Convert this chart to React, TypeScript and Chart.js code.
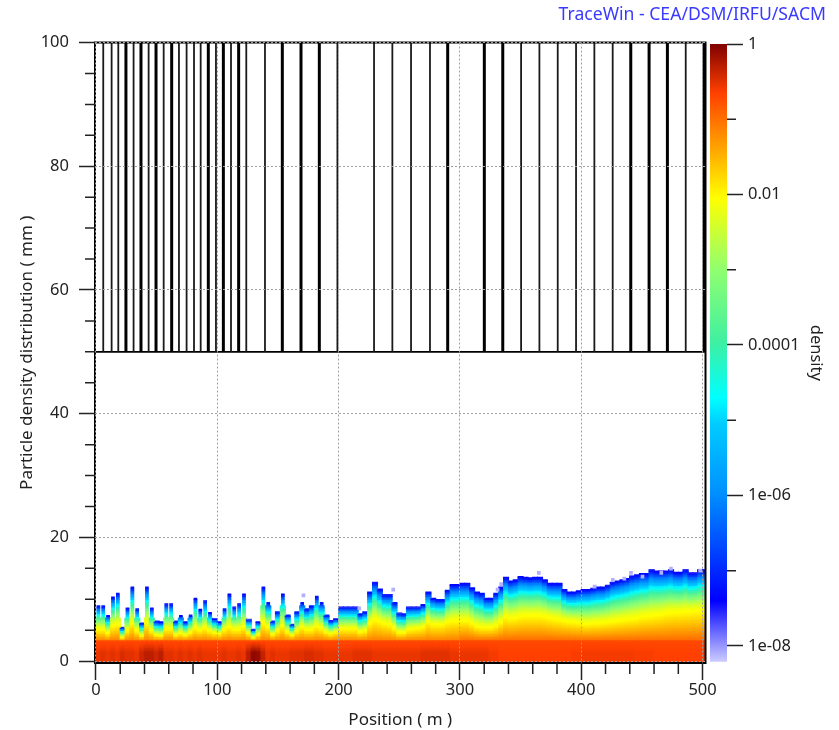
import React, { useEffect, useRef } from "react";
import { Chart, registerables } from "chart.js";

Chart.register(...registerables);

const FONT = "'Noto Sans', sans-serif";
const FONT_SIZE = 16.5;
const TITLE_SIZE = 17;
const TOP_SIZE = 17.6;
const TEXT = "#222";

const xMajor = [0, 100, 200, 300, 400, 500];
const xMinor = [20, 40, 60, 80, 120, 140, 160, 180, 220, 240, 260, 280, 320, 340, 360, 380, 420, 440, 460, 480];
const yMajor = [0, 20, 40, 60, 80, 100];
const yMinor = [5, 10, 15, 25, 30, 35, 45, 50, 55, 65, 70, 75, 85, 90, 95];

const thinElements = [6, 12.9, 18.4, 31, 43.4, 55.8, 68.4, 74.7, 80.8, 86.3, 98.9, 111.3, 123.9, 139.3, 199, 229.2, 244.3, 259.7, 275.3, 350.4, 365.5, 380.6, 395.7, 410.8, 425.9, 486.1];
const thickElements = [24.7, 37.1, 49.5, 62.4, 92.6, 105, 117.6, 153.6, 169, 184.1, 289.9, 320.1, 335.3, 440.8, 455.9, 471, 501.2];

const columnPositions = [2, 6, 10, 14, 18, 22, 26, 30, 34, 38, 42, 46, 50, 54, 58, 62, 66, 70, 74, 78, 82, 86, 90, 94, 98, 102, 106, 110, 114, 118, 122, 126, 130, 134, 138, 142, 146, 150, 154, 158, 162, 166, 170, 174, 178, 182, 186, 190, 194, 198, 202, 206, 210, 214, 218, 222, 226, 230, 234, 238, 242, 246, 250, 254, 258, 262, 266, 270, 274, 278, 282, 286, 290, 294, 298, 302, 306, 310, 314, 318, 322, 326, 330, 334, 338, 342, 346, 350, 354, 358, 362, 366, 370, 374, 378, 382, 386, 390, 394, 398, 402, 406, 410, 414, 418, 422, 426, 430, 434, 438, 442, 446, 450, 454, 458, 462, 466, 470, 474, 478, 482, 486, 490, 494, 498, 502];

// Outer edge of the particle cloud in each column (mm)
const envelopeTop = [
  9.0, 9.0, 7.4, 10.4, 11.0, 5.5, 8.6, 12.0, 8.5, 6.2, 12.0, 8.6, 6.5, 6.4, 9.3, 9.3, 6.5, 7.4, 6.4, 7.5, 10.2, 8.4, 9.8, 7.9, 6.9,
  6.4, 8.5, 10.9, 8.8, 9.3, 10.9, 6.8, 5.2, 6.4, 12.0, 9.5, 6.5, 8.0, 10.9, 7.5, 6.0, 8.0, 9.5, 8.5, 9.0, 10.5, 9.5, 7.5, 6.6, 6.9,
  8.8, 8.8, 8.8, 8.8, 7.7, 8.0, 11.2, 12.8, 11.7, 10.8, 10.8, 9.5, 7.8, 7.7, 8.8, 8.8, 8.8, 9.2, 11.2, 10.2, 10.0, 10.0, 11.5, 12.4, 12.4,
  12.6, 12.6, 11.9, 11.2, 11.0, 10.2, 10.2, 11.0, 12.0, 13.6, 13.0, 13.2, 13.7, 13.6, 13.5, 13.6, 13.6, 13.2, 12.6, 12.6, 12.6, 11.6, 11.2, 11.2, 11.4,
  11.6, 11.6, 11.8, 12.0, 12.0, 12.3, 12.8, 13.0, 13.2, 13.4, 13.8, 14.0, 14.2, 14.2, 14.8, 14.6, 14.6, 14.6, 14.8, 14.4, 14.4, 14.8, 14.3, 14.3, 14.8, 14.8,
];

// Height of the yellow (density 0.01) level in each column (mm)
const yellowLevel = [
  5.2, 5.2, 4.6, 5.8, 6.0, 3.9, 5.0, 6.2, 5.0, 4.2, 6.2, 5.0, 4.3, 4.2, 5.3, 5.3, 4.3, 4.6, 4.3, 4.7, 5.4, 5.1, 5.4, 5.0, 4.7,
  4.5, 5.2, 5.6, 5.2, 5.2, 5.6, 4.6, 3.9, 4.4, 6.2, 5.6, 4.4, 5.0, 5.8, 4.8, 4.3, 5.0, 5.6, 5.2, 5.2, 5.7, 5.4, 4.8, 4.5, 4.8,
  5.3, 5.3, 5.3, 5.3, 4.8, 5.0, 6.2, 6.8, 6.5, 6.2, 6.0, 5.4, 4.7, 4.7, 5.2, 5.3, 5.4, 5.6, 6.4, 6.0, 6.0, 6.0, 6.4, 6.6, 6.6,
  6.6, 6.6, 6.2, 5.7, 5.5, 5.5, 5.5, 5.8, 6.4, 7.2, 7.0, 7.1, 7.3, 7.4, 7.4, 7.4, 7.4, 7.3, 7.1, 6.9, 6.8, 6.6, 6.5, 6.4, 6.3,
  6.1, 6.1, 6.2, 6.2, 6.3, 6.4, 6.5, 6.6, 6.7, 6.8, 6.9, 7.0, 7.2, 7.3, 7.4, 7.5, 7.6, 7.8, 7.9, 8.0, 8.0, 8.1, 8.1, 8.2, 8.2, 8.2,
];

// log10 of the density in the core of each column
const coreLogDensity = [
  -0.55, -0.5, -0.55, -0.5, -0.55, -0.45, -0.5, -0.5, -0.55, -0.4, -0.3, -0.3, -0.4, -0.3, -0.5, -0.5, -0.55, -0.5, -0.55, -0.5, -0.55, -0.5, -0.55, -0.55, -0.55,
  -0.55, -0.5, -0.55, -0.55, -0.5, -0.55, -0.3, -0.08, -0.12, -0.35, -0.55, -0.5, -0.55, -0.55, -0.55, -0.5, -0.5, -0.5, -0.45, -0.45, -0.5, -0.5, -0.55, -0.55, -0.55,
  -0.55, -0.55, -0.55, -0.5, -0.5, -0.5, -0.5, -0.55, -0.55, -0.55, -0.55, -0.55, -0.55, -0.55, -0.55, -0.55, -0.55, -0.5, -0.5, -0.5, -0.5, -0.5, -0.5, -0.55, -0.55,
  -0.55, -0.55, -0.55, -0.55, -0.55, -0.55, -0.6, -0.6, -0.65, -0.65, -0.65, -0.65, -0.65, -0.65, -0.65, -0.65, -0.65, -0.65, -0.65, -0.65, -0.65, -0.65, -0.65, -0.62, -0.62,
  -0.6, -0.6, -0.6, -0.6, -0.6, -0.6, -0.6, -0.6, -0.6, -0.6, -0.6, -0.62, -0.62, -0.62, -0.62, -0.65, -0.65, -0.65, -0.65, -0.65, -0.65, -0.65, -0.65, -0.65, -0.65, -0.65,
];

const wispX = [171, 217, 245, 331, 334, 365, 411, 426, 435.5, 441, 450.5, 466, 474, 498];
const wispY = [10.9, 8.8, 11.8, 11.8, 12.7, 14.5, 12.3, 13.4, 13.6, 14.5, 13.9, 14.5, 15.2, 14.9];

const paletteLog = [0, -0.65, -2.05, -3.0, -3.95, -4.7, -5.05, -5.97, -7.4, -8.21];
const paletteRgb = [
  [128, 0, 0], [255, 64, 0], [255, 255, 0], [144, 255, 112], [64, 240, 160],
  [0, 255, 255], [0, 204, 255], [0, 144, 255], [0, 0, 255], [204, 204, 255],
];

const cbarMajor = [1, 0.01, 0.0001, 1e-6, 1e-8];
const cbarMinor = [0.1, 0.001, 1e-5, 1e-7];
const cbarLabels = ["1", "0.01", "0.0001", "1e-06", "1e-08"];

const lerp = (a: number, b: number, t: number) => a + (b - a) * t;

function colorFor(logD: number) {
  for (let k = 1; k < paletteLog.length; k++) {
    if (logD >= paletteLog[k]) {
      const t = (paletteLog[k - 1] - logD) / (paletteLog[k - 1] - paletteLog[k]);
      const c = paletteRgb[k - 1].map((v, j) => Math.round(lerp(v, paletteRgb[k][j], t)));
      return `rgb(${c[0]},${c[1]},${c[2]})`;
    }
  }
  return "rgb(204,204,255)";
}

const CORE_TOP = 3.4;
const ROW = 0.25;

function cellLog(i: number, y: number) {
  const top = envelopeTop[i];
  const yel = yellowLevel[i];
  const peak = coreLogDensity[i];
  const above = columnPositions[i] < 300 ? -1.1 : -0.95;
  if (y <= 1.5) return peak;
  if (y <= CORE_TOP) return lerp(peak, -0.72, (y - 1.5) / (CORE_TOP - 1.5));
  if (y <= yel) return lerp(above, -2.05, (y - CORE_TOP) / (yel - CORE_TOP));
  return lerp(-2.05, -7.4, Math.pow((y - yel) / (top - yel), 1.5));
}

// Above these heights the spikes of the first part of the line are narrow
const spikeFrom = (x: number) => (x < 130 ? 7 : x < 200 ? 9 : Infinity);

function heatDatasets() {
  const sets: any[] = [];
  for (let r = 0; r < 60; r++) {
    const lo = r * ROW;
    const wide: any[] = [];
    const wideColors: string[] = [];
    const narrow: any[] = [];
    const narrowColors: string[] = [];
    columnPositions.forEach((x, i) => {
      if (lo < envelopeTop[i]) {
        const hi = Math.min(lo + ROW, envelopeTop[i]);
        const cell = { x, y: [r === 0 ? -0.3 : lo - 0.06, hi] };
        const color = colorFor(cellLog(i, lo + ROW / 2));
        if (lo >= spikeFrom(x)) {
          narrow.push(cell);
          narrowColors.push(color);
        } else {
          wide.push(cell);
          wideColors.push(color);
        }
      }
    });
    if (wide.length) sets.push({ type: "bar", label: `row ${r}`, data: wide, backgroundColor: wideColors, borderWidth: 0, barThickness: 5.4, grouped: false, order: 5 + (60 - r) });
    if (narrow.length) sets.push({ type: "bar", label: `row ${r} spikes`, data: narrow, backgroundColor: narrowColors, borderWidth: 0, barThickness: 3, grouped: false, order: 5 + (60 - r) });
  }
  sets.push({
    type: "bar", label: "halo", order: 3, borderWidth: 0, barThickness: 3, grouped: false,
    backgroundColor: "rgb(176,176,255)",
    data: wispX.map((x, i) => ({ x, y: [wispY[i] - 0.5, wispY[i]] })),
  });
  return sets;
}

const elementLine = (xs: number[]) =>
  xs.flatMap((x) => [{ x, y: 50 }, { x, y: 100 }, { x, y: null }]);

const minorTicks = {
  id: "minorTicks",
  afterDraw(chart: any) {
    const { ctx, chartArea: a, scales } = chart;
    ctx.save();
    ctx.strokeStyle = TEXT;
    ctx.lineWidth = 1.5;
    ctx.beginPath();
    if (scales.x && scales.y) {
      xMinor.forEach((v) => {
        const p = scales.x.getPixelForValue(v);
        ctx.moveTo(p, a.bottom);
        ctx.lineTo(p, a.bottom + 11);
      });
      yMinor.forEach((v) => {
        const p = scales.y.getPixelForValue(v);
        ctx.moveTo(a.left, p);
        ctx.lineTo(a.left - 10, p);
      });
    } else if (scales.c) {
      cbarMinor.forEach((v) => {
        const p = scales.c.getPixelForValue(v);
        ctx.moveTo(a.right, p);
        ctx.lineTo(a.right + 9, p);
      });
    }
    ctx.stroke();
    ctx.restore();
  },
};

const frame = {
  id: "frame",
  afterDatasetsDraw(chart: any) {
    const { ctx, chartArea: a } = chart;
    ctx.save();
    ctx.strokeStyle = "#000";
    ctx.lineWidth = 2;
    ctx.strokeRect(a.left, a.top, a.right - a.left, a.bottom - a.top);
    ctx.restore();
  },
};

export default function App() {
  const mainRef = useRef<HTMLCanvasElement>(null);
  const barRef = useRef<HTMLCanvasElement>(null);

  useEffect(() => {
    const main = new Chart(mainRef.current as any, {
      type: "bar",
      data: {
        datasets: [
          { type: "line", label: "elements", data: elementLine(thinElements), borderColor: "#1a1a1a", borderWidth: 1.8, pointRadius: 0, spanGaps: false, order: 1 },
          { type: "line", label: "elements wide", data: elementLine(thickElements), borderColor: "#000", borderWidth: 3, pointRadius: 0, spanGaps: false, order: 1 },
          { type: "line", label: "base", data: [{ x: -0.8, y: 50 }, { x: 502.4, y: 50 }], borderColor: "#000", borderWidth: 1.6, pointRadius: 0, order: 1 },
          ...heatDatasets(),
        ] as any,
      },
      options: {
        responsive: false,
        animation: false,
        layout: { padding: { left: 0, right: 13, top: 0, bottom: 0 } },
        plugins: {
          legend: { display: false },
          tooltip: { enabled: false },
          title: {
            display: true,
            text: "TraceWin - CEA/DSM/IRFU/SACM",
            align: "end",
            color: "#3a3aff",
            font: { family: FONT, size: TOP_SIZE, weight: "normal" },
            padding: { top: 4.5, bottom: 16.9 },
          },
        },
        scales: {
          x: {
            type: "linear",
            min: -0.8,
            max: 502.4,
            offset: false,
            afterBuildTicks: (s: any) => { s.ticks = xMajor.map((value) => ({ value })); },
            afterFit: (s: any) => { s.height = 67; },
            grid: { offset: false, z: 1, color: "#a0a0a0", lineWidth: 1, tickColor: TEXT, tickWidth: 1.5, tickLength: 17, tickBorderDash: [] } as any,
            border: { display: false, dash: [2, 2] },
            ticks: { color: TEXT, font: { family: FONT, size: FONT_SIZE }, padding: 0, maxRotation: 0, autoSkip: false },
            title: { display: true, text: "Position ( m )", color: TEXT, font: { family: FONT, size: TITLE_SIZE }, padding: { top: 4, bottom: 0 } },
          },
          y: {
            type: "linear",
            position: "left",
            min: -0.3,
            max: 100,
            afterBuildTicks: (s: any) => { s.ticks = yMajor.map((value) => ({ value })); },
            afterFit: (s: any) => { s.width = 95; },
            grid: { z: 1, color: "#a0a0a0", lineWidth: 1, tickColor: TEXT, tickWidth: 1.5, tickLength: 16, tickBorderDash: [] } as any,
            border: { display: false, dash: [2, 2] },
            ticks: { color: TEXT, font: { family: FONT, size: FONT_SIZE }, padding: 10, autoSkip: false },
            title: { display: true, text: "Particle density distribution ( mm )", color: TEXT, font: { family: FONT, size: TITLE_SIZE }, padding: { top: 17, bottom: 0 } },
          },
          spacer: {
            type: "linear",
            position: "right",
            afterFit: (s: any) => { s.width = 120.5; },
            grid: { display: false },
            border: { display: false },
            ticks: { display: false },
          },
        },
      } as any,
      plugins: [frame, minorTicks],
    });

    const bar = new Chart(barRef.current as any, {
      type: "bar",
      data: {
        labels: ["density"],
        datasets: [
          {
            label: "density scale",
            yAxisID: "c",
            data: [[Math.pow(10, paletteLog[paletteLog.length - 1]), 1]],
            borderWidth: 0,
            barPercentage: 1,
            categoryPercentage: 1,
            backgroundColor: (c: any) => {
              const a = c.chart.chartArea;
              if (!a || !Number.isFinite(a.top) || !Number.isFinite(a.bottom)) return "#ffffff";
              const g = c.chart.ctx.createLinearGradient(0, a.top, 0, a.bottom);
              const lo = paletteLog[paletteLog.length - 1];
              paletteLog.forEach((v, k) => {
                const rgb = paletteRgb[k];
                g.addColorStop(v / lo, `rgb(${rgb[0]},${rgb[1]},${rgb[2]})`);
              });
              return g;
            },
          } as any,
        ],
      },
      options: {
        responsive: false,
        animation: false,
        layout: { padding: { left: 70, right: 0, top: 44, bottom: 68.3 } },
        plugins: { legend: { display: false }, tooltip: { enabled: false } },
        scales: {
          x: { display: false, offset: true },
          c: {
            type: "logarithmic",
            position: "right",
            min: Math.pow(10, paletteLog[paletteLog.length - 1]),
            max: 1,
            afterBuildTicks: (s: any) => { s.ticks = cbarMajor.map((value) => ({ value })); },
            afterFit: (s: any) => { s.width = 112; },
            grid: { drawOnChartArea: false, tickColor: TEXT, tickWidth: 1.5, tickLength: 16 },
            border: { display: false },
            ticks: {
              color: TEXT,
              font: { family: FONT, size: FONT_SIZE },
              padding: 5,
              autoSkip: false,
              callback: (v: any) => {
                const k = cbarMajor.findIndex((m) => Math.abs(Math.log10(m) - Math.log10(v)) < 1e-6);
                return k >= 0 ? cbarLabels[k] : "";
              },
            },
            title: { display: true, text: "density", color: TEXT, font: { family: FONT, size: FONT_SIZE }, padding: { top: 13, bottom: 0 } },
          },
        },
      } as any,
      plugins: [minorTicks],
    });

    return () => {
      main.destroy();
      bar.destroy();
    };
  }, []);

  const soft = { position: "absolute", top: 0, display: "block", filter: "blur(0.45px)" } as const;
  return (
    <div style={{ position: "absolute", left: 0, top: 0, width: 839, height: 730, background: "#fff" }}>
      <canvas ref={mainRef} width={839} height={730} style={{ ...soft, left: 0 }} />
      <canvas ref={barRef} width={199} height={730} style={{ ...soft, left: 640 }} />
    </div>
  );
}
